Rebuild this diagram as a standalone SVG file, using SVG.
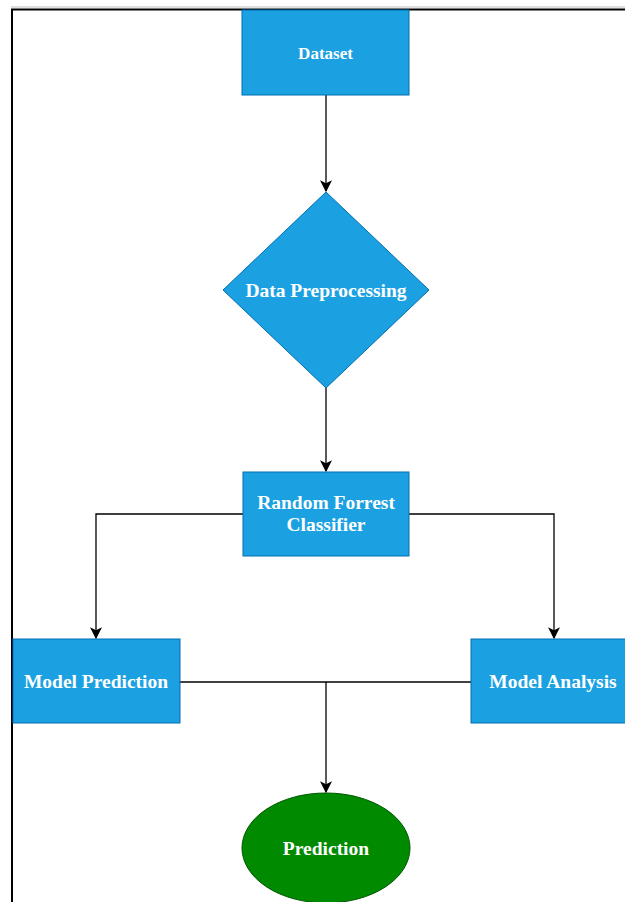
<svg xmlns="http://www.w3.org/2000/svg" width="625" height="902" viewBox="0 0 625 902">
  <style>
    .box { fill: #1ba1e2; stroke: #006eaf; stroke-width: 1; }
    .term { fill: #008a00; stroke: #005700; stroke-width: 1; }
    .lbl { font-family: "Liberation Serif", "Times New Roman", serif; font-weight: bold; font-size: 19.5px; fill: #ffffff; text-anchor: middle; dominant-baseline: central; }
    .small { font-size: 17px; }
    .wire { fill: none; stroke: #000000; stroke-width: 1.3; }
  </style>
  <defs>
    <marker id="arrow" viewBox="0 0 10 10" refX="9" refY="5" markerWidth="12" markerHeight="12" markerUnits="userSpaceOnUse" orient="auto">
      <path d="M0,0 L10,5 L0,10 L2.5,5 Z" fill="#000000"/>
    </marker>
  </defs>

  <!-- page frame -->
  <rect x="0" y="0" width="625" height="902" fill="#ffffff"/>
  <line x1="11" y1="7" x2="625" y2="7" stroke="#d4d4d4" stroke-width="1.5"/>
  <line x1="11" y1="9.5" x2="625" y2="9.5" stroke="#000000" stroke-width="2"/>
  <line x1="12" y1="9" x2="12" y2="902" stroke="#000000" stroke-width="2"/>

  <g id="connectors">
    <path class="wire" d="M326,95 V191" marker-end="url(#arrow)"/>
    <path class="wire" d="M326,388 V471" stroke="#555555" marker-end="url(#arrow)"/>
    <path class="wire" d="M243,514 H96 V638" marker-end="url(#arrow)"/>
    <path class="wire" d="M409,514 H554 V638" marker-end="url(#arrow)"/>
    <path class="wire" d="M180,682 H471"/>
    <path class="wire" d="M326,682 V792" marker-end="url(#arrow)"/>
  </g>

  <g id="dataset">
    <rect class="box" x="242" y="10" width="167" height="85"/>
    <text class="lbl small" x="325.5" y="53">Dataset</text>
  </g>

  <g id="preprocessing">
    <polygon class="box" points="326,192 429,290 326,388 223,290"/>
    <text class="lbl" x="326" y="290">Data Preprocessing</text>
  </g>

  <g id="classifier">
    <rect class="box" x="243" y="472" width="166" height="84"/>
    <text class="lbl" x="326" y="502">Random Forrest</text>
    <text class="lbl" x="326" y="524">Classifier</text>
  </g>

  <g id="model-prediction">
    <rect class="box" x="13" y="639" width="167" height="84"/>
    <text class="lbl" x="96" y="681">Model Prediction</text>
  </g>

  <g id="model-analysis">
    <rect class="box" x="471" y="639" width="167" height="84"/>
    <text class="lbl" x="553" y="681">Model Analysis</text>
  </g>

  <g id="prediction">
    <ellipse class="term" cx="326" cy="848" rx="84" ry="55"/>
    <text class="lbl" x="326" y="848">Prediction</text>
  </g>
</svg>
